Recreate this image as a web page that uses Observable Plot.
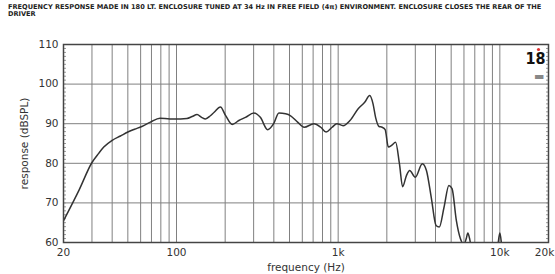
<!DOCTYPE html>
<html><head><meta charset="utf-8">
<script src="https://cdn.jsdelivr.net/npm/d3@7"></script>
<script src="https://cdn.jsdelivr.net/npm/@observablehq/plot@0.6"></script>
<style>
body{margin:0;background:#fff;width:555px;height:274px;overflow:hidden;position:relative}
#title{position:absolute;left:8px;top:4px;width:542px;font-family:"DejaVu Sans";font-weight:bold;font-size:6.6px;line-height:7px;color:#222}
#chart{position:absolute;left:0;top:0}
</style></head><body>
<div id="chart"></div>
<div id="title">FREQUENCY RESPONSE MADE IN 180 LT. ENCLOSURE TUNED AT 34 Hz IN FREE FIELD (4π) ENVIRONMENT. ENCLOSURE CLOSES THE REAR OF THE DRIVER</div>
<script>
const freq = [20, 25, 30, 33, 35.5, 40, 45, 50, 55, 61, 69, 79, 91, 106, 116, 125, 134, 143, 151, 162, 171, 187, 201, 221, 243, 267, 301, 330, 366, 399, 430, 473, 508, 561, 616, 708, 781, 842, 917, 982, 1073, 1183, 1330, 1459, 1568, 1643, 1704, 1789, 1870, 1953, 2044, 2140, 2266, 2393, 2504, 2644, 2768, 3000, 3315, 3515, 3765, 4030, 4220, 4517, 4840, 5063, 5381, 5700, 6000, 6200, 6340, 6500, 6700, 7500, 9000, 9700, 10000, 10300, 11000, 13000, 20000];
const spl = [65.5, 73.3, 80.2, 82.5, 84.1, 85.8, 86.9, 87.9, 88.6, 89.3, 90.4, 91.4, 91.2, 91.2, 91.3, 91.8, 92.3, 91.6, 91.2, 92.0, 92.9, 94.2, 92.1, 89.8, 90.8, 91.6, 92.7, 91.6, 88.5, 90.0, 92.7, 92.5, 92.0, 90.4, 89.1, 90.0, 89.1, 87.9, 89.1, 90.0, 89.5, 90.8, 93.8, 95.4, 97.1, 95.0, 91.6, 89.3, 89.1, 88.5, 84.1, 84.5, 85.3, 79.9, 74.1, 76.9, 78.2, 76.5, 79.9, 78.2, 71.4, 64.3, 63.9, 68.9, 74.4, 73.6, 65.6, 61.0, 59.5, 61.0, 62.4, 61.0, 58.0, 54.0, 55.0, 59.0, 62.4, 59.0, 55.0, 50.0, 45.0];
const xTickValues = [20, 100, 1000, 10000];
const xTickLabels = ["20", "100", "1k", "10k"];
const xEndTick = [20000];
const xEndLabel = "20k";
const xGrid = [30, 40, 50, 60, 70, 80, 90, 100, 200, 300, 400, 500, 600, 700, 800, 900, 1000, 2000, 3000, 4000, 5000, 6000, 7000, 8000, 9000, 10000];
const yTicks = [60, 70, 80, 90, 100, 110];
const yGrid = [70, 80, 90, 100];
const yMinor = d3.range(61, 110);

const data = freq.map((f, i) => ({f, db: spl[i]}));

const chart = Plot.plot({
  width: 555, height: 274,
  marginTop: 44, marginBottom: 32, marginLeft: 63, marginRight: 7,
  style: {fontFamily: "DejaVu Sans", fontSize: "10.5px", color: "#333", background: "#fff"},
  x: {type: "log", domain: [20, 20000]},
  y: {domain: [60, 110]},
  marks: [
    Plot.gridX(xGrid, {stroke: "#808080", strokeOpacity: 1, strokeWidth: 1}),
    Plot.gridY(yGrid, {stroke: "#808080", strokeOpacity: 1, strokeWidth: 1}),
    Plot.axisY(yMinor, {anchor: "left", tickSize: 3, dx: 3, tickFormat: () => "", label: null, stroke: "#999"}),
    Plot.axisY(yMinor, {anchor: "right", tickSize: 3, dx: -3, tickFormat: () => "", label: null, stroke: "#999"}),
    Plot.axisY(yTicks, {anchor: "left", tickSize: 0, tickPadding: 5, label: "response (dBSPL)", labelAnchor: "center", labelOffset: 43, labelArrow: "none", fill: "#333"}),
    Plot.axisX(xTickValues, {anchor: "bottom", tickSize: 0, tickPadding: 6, tickFormat: d => xTickLabels[xTickValues.indexOf(d)], label: "frequency (Hz)", labelAnchor: "center", labelOffset: 28, labelArrow: "none", fill: "#333"}),
    Plot.axisX(xEndTick, {anchor: "bottom", tickSize: 0, tickPadding: 6, dx: -4, tickFormat: () => xEndLabel, label: null, fill: "#333"}),
    Plot.line(data, {x: "f", y: "db", curve: "monotone-x", stroke: "#333", strokeWidth: 1.5, clip: true}),
    Plot.frame({stroke: "#444", strokeWidth: 1.5}),
    Plot.dot([0], {frameAnchor: "top-right", dx: -10, dy: 5, r: 1.6, fill: "#e03030", stroke: null}),
    Plot.text(["18"], {frameAnchor: "top-right", dx: -3, dy: 8, lineAnchor: "top", textAnchor: "end", fontWeight: "bold", fontSize: 16, fontFamily: "Liberation Sans Narrow, DejaVu Sans Condensed, sans-serif", fill: "#111"}),
    Plot.text(["▬"], {frameAnchor: "top-right", dx: -4, dy: 28, fill: "#888", fontSize: 11})
  ]
});
document.getElementById("chart").appendChild(chart);
</script>
</body></html>
